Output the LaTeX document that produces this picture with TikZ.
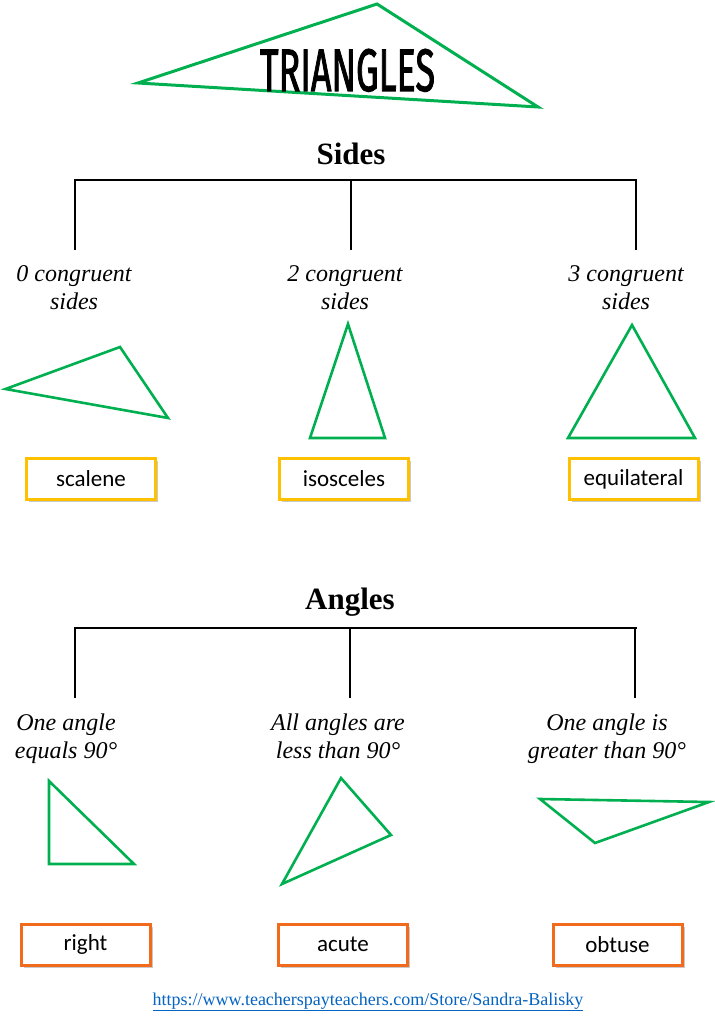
\documentclass[tikz,border=0pt]{standalone}
\usepackage{fontspec}
\setmainfont{Liberation Serif}
\newfontfamily\boxfont{Carlito}
\newfontfamily\titlefont[FakeBold=2]{Fira Sans}
\usetikzlibrary{shadows}
\definecolor{trigreen}{HTML}{00B050}
\definecolor{boxyellow}{HTML}{FFC000}
\definecolor{boxorange}{HTML}{F26A1B}
\definecolor{linkblue}{HTML}{0563C1}
\tikzset{
  x=1pt, y=-1pt,
  tri/.style={draw=trigreen, line width=2.6pt, line join=miter},
  header/.style={font=\fontsize{31}{34}\selectfont\bfseries, inner sep=0pt},
  desc/.style={font=\fontsize{24}{28}\selectfont\itshape, align=center, inner sep=0pt, anchor=north},
  treeline/.style={draw=black, line width=2.8pt},
  namebox/.style={draw=#1, line width=3pt, fill=white, minimum width=129pt, minimum height=41pt,
    inner sep=0pt, font=\boxfont\fontsize{23}{26}\selectfont,
    drop shadow={shadow xshift=2.5pt, shadow yshift=-2.5pt, fill=black!35, opacity=0.6}},
}
\begin{document}
\begin{tikzpicture}
\useasboundingbox[fill=white] (0,0) rectangle (714,1024);
% title
\draw[tri, line width=3pt] (138,83) -- (377,4) -- (538,107) -- cycle;
\node[inner sep=0pt, anchor=base] (title) at (347.5,91) {\resizebox{175pt}{42pt}{\titlefont TRIANGLES}};
% sides tree
\node[header] (sides) at (351,154) {Sides};
\coordinate (sbl) at (74,180);
\coordinate (sbr) at (637,180);
\draw[treeline] (sbl) -- (sbr);
\coordinate (s1t) at (75,180); \coordinate (s1b) at (75,250);
\coordinate (s2t) at (351,180); \coordinate (s2b) at (351,250);
\coordinate (s3t) at (636,180); \coordinate (s3b) at (636,250);
\draw[treeline] (s1t) -- (s1b);
\draw[treeline] (s2t) -- (s2b);
\draw[treeline] (s3t) -- (s3b);
\node[desc] (d0) at (74,262) {\strut 0 congruent\\\strut sides};
\node[desc] (d2) at (345,262) {\strut 2 congruent\\\strut sides};
\node[desc] (d3) at (626,262) {\strut 3 congruent\\\strut sides};
% side triangles
\draw[tri] (5.5,389) -- (120,347) -- (168,418) -- cycle;
\draw[tri] (348,324) -- (310,438) -- (385,438) -- cycle;
\draw[tri] (632,325) -- (568,438) -- (695,438) -- cycle;
\node[namebox=boxyellow] (scalene) at (91,479) {scalene};
\node[namebox=boxyellow] (isosceles) at (344,479) {isosceles};
\node[namebox=boxyellow] (equilateral) at (633.5,479) {equilateral};
% angles tree
\node[header] (angles) at (350,602) {Angles};
\coordinate (abl) at (74,628);
\coordinate (abr) at (637,628);
\draw[treeline] (abl) -- (abr);
\coordinate (a1t) at (75,628); \coordinate (a1b) at (75,698);
\coordinate (a2t) at (350,628); \coordinate (a2b) at (350,698);
\coordinate (a3t) at (635,628); \coordinate (a3b) at (635,698);
\draw[treeline] (a1t) -- (a1b);
\draw[treeline] (a2t) -- (a2b);
\draw[treeline] (a3t) -- (a3b);
\node[desc] (dr) at (66,711) {\strut One angle\\\strut equals 90°};
\node[desc] (da) at (338,711) {\strut All angles are\\\strut less than 90°};
\node[desc] (do) at (607,711) {\strut One angle is\\\strut greater than 90°};
% angle triangles
\draw[tri] (49,781) -- (49,864) -- (134,864) -- cycle;
\draw[tri] (341,778) -- (391,835) -- (282,884) -- cycle;
\draw[tri] (540,799) -- (709,802) -- (595,843) -- cycle;
\node[namebox=boxorange] (right) at (85.5,944.5) {right};
\node[namebox=boxorange] (acute) at (343,944.5) {acute};
\node[namebox=boxorange] (obtuse) at (617.5,944.5) {obtuse};
% url
\node[font=\fontsize{18}{20}\selectfont, text=linkblue, inner sep=0pt] (url) at (368,1002)
  {\underline{https://www.teacherspayteachers.com/Store/Sandra-Balisky}};
\end{tikzpicture}
\end{document}
